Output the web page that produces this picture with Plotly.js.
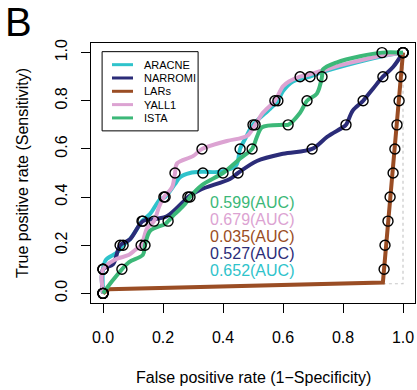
<!DOCTYPE html>
<html><head><meta charset="utf-8">
<script src="https://cdn.plot.ly/plotly-3.0.1.min.js"></script>
<style>html,body{margin:0;padding:0;background:#fff}#chart{width:417px;height:390px}</style>
</head><body><div id="chart"></div>
<script>
const methods = ["ARACNE", "NARROMI", "LARs", "YALL1", "ISTA"];
const colors = ["#2fc3cb", "#2b2c78", "#9a4d24", "#dca3d2", "#3cb878"];
const aucLabels = ["0.599(AUC)", "0.679(AUC)", "0.035(AUC)", "0.527(AUC)", "0.652(AUC)"];
const aucColors = ["#3cb878", "#dca3d2", "#9a4d24", "#2b2c78", "#2fc3cb"];

const aracneX = [0, 0, 0.01, 0.047, 0.067, 0.09, 0.117, 0.13, 0.157, 0.19, 0.207, 0.24, 0.257, 0.29, 0.333, 0.39, 0.443, 0.457, 0.473, 0.5, 0.557, 0.583, 0.6, 0.633, 0.69, 0.733, 0.847, 0.923, 1.0];
const aracneY = [0, 0.1, 0.14, 0.17, 0.2, 0.225, 0.275, 0.3, 0.33, 0.39, 0.4, 0.454, 0.483, 0.5, 0.505, 0.505, 0.53, 0.6, 0.64, 0.7, 0.767, 0.8, 0.84, 0.88, 0.9, 0.92, 0.96, 0.983, 1.0];
const narromiX = [0, 0, 0.033, 0.05, 0.057, 0.09, 0.133, 0.18, 0.213, 0.267, 0.283, 0.323, 0.423, 0.45, 0.513, 0.6, 0.697, 0.747, 0.8, 0.81, 0.833, 0.867, 0.9, 0.933, 0.967, 1.0];
const narromiY = [0, 0.1, 0.12, 0.18, 0.2, 0.225, 0.3, 0.31, 0.32, 0.38, 0.4, 0.43, 0.475, 0.5, 0.55, 0.58, 0.6, 0.65, 0.69, 0.7, 0.76, 0.8, 0.85, 0.9, 0.94, 1.0];
const larsX = [0, 0.02, 0.933, 1.0];
const larsY = [0, 0.017, 0.045, 1.0];
const yall1X = [0, 0, 0.04, 0.087, 0.107, 0.127, 0.147, 0.17, 0.187, 0.203, 0.23, 0.24, 0.247, 0.3, 0.33, 0.413, 0.48, 0.507, 0.533, 0.573, 0.6, 0.62, 0.657, 0.69, 0.73, 0.8, 0.9, 1.0];
const yall1Y = [0, 0.1, 0.14, 0.16, 0.18, 0.2, 0.27, 0.3, 0.36, 0.4, 0.44, 0.5, 0.54, 0.57, 0.6, 0.633, 0.654, 0.7, 0.75, 0.8, 0.86, 0.88, 0.9, 0.91, 0.925, 0.95, 0.98, 1.0];
const istaX = [0, 0.03, 0.063, 0.087, 0.133, 0.14, 0.157, 0.207, 0.217, 0.24, 0.273, 0.29, 0.33, 0.4, 0.457, 0.497, 0.513, 0.53, 0.6, 0.617, 0.657, 0.68, 0.713, 0.73, 0.733, 0.78, 0.857, 0.93, 1.0];
const istaY = [0, 0.05, 0.1, 0.13, 0.16, 0.2, 0.26, 0.288, 0.3, 0.33, 0.37, 0.4, 0.45, 0.5, 0.56, 0.6, 0.65, 0.69, 0.7, 0.7, 0.75, 0.8, 0.83, 0.9, 0.93, 0.96, 0.985, 1.0, 1.0];

// circle markers at sensitivity levels
const cutY = [0, 0.1, 0.2, 0.3, 0.4, 0.5, 0.6, 0.7, 0.8, 0.9, 1.0];
const aracneCutX = [0, 0, 0.067, 0.13, 0.207, 0.333, 0.457, 0.5, 0.583, 0.69, 1.0];
const narromiCutX = [0, 0, 0.057, 0.133, 0.283, 0.45, 0.697, 0.81, 0.867, 0.933, 1.0];
const larsCutX = [0, 0.937, 0.94, 0.95, 0.957, 0.967, 0.973, 0.98, 0.987, 0.993, 1.0];
const yall1CutX = [0, 0, 0.127, 0.17, 0.203, 0.24, 0.33, 0.507, 0.573, 0.657, 1.0];
const istaCutX = [0, 0.063, 0.14, 0.217, 0.29, 0.4, 0.497, 0.617, 0.68, 0.73, 0.93];

// dotted reference
const refX = [0.933, 1.0, 1.0];
const refY = [0.04, 0.04, 1.0];

const lineX = [aracneX, narromiX, larsX, yall1X, istaX];
const lineY = [aracneY, narromiY, larsY, yall1Y, istaY];
const cutX = [aracneCutX, narromiCutX, larsCutX, yall1CutX, istaCutX];

const FONT = "Liberation Sans, Arial, Helvetica, sans-serif";
const traces = [];
traces.push({x: refX, y: refY, mode: "lines", line: {color: "#c8c8c8", width: 1.2, dash: "dot"}, showlegend: false, hoverinfo: "skip"});
methods.forEach((m, i) => {
  traces.push({x: lineX[i], y: lineY[i], mode: "lines", name: m,
    line: {color: colors[i], width: 4, shape: m === "LARs" ? "linear" : "spline", smoothing: 0.9},
    showlegend: false});
});
methods.forEach((m, i) => {
  traces.push({x: cutX[i], y: cutY, mode: "markers", showlegend: false,
    marker: {symbol: "circle-open", size: 10, color: "#000", line: {width: 1.4, color: "#000"}}});
});

const annotations = [];
const shapes = [];
// AUC texts
aucLabels.forEach((t, i) => {
  annotations.push({xref: "x", yref: "y", x: 0.35, y: 0.378 - i * 0.0705, text: t, showarrow: false,
    xanchor: "left", yanchor: "middle", font: {family: FONT, size: 16, color: aucColors[i]}});
});
// manual legend
shapes.push({type: "rect", xref: "x", yref: "y", x0: -0.003, x1: 0.317, y0: 0.675, y1: 1.004,
  line: {color: "#000", width: 1}, fillcolor: "rgba(255,255,255,0)"});
methods.forEach((m, i) => {
  const yy = 0.95 - i * 0.0553;
  shapes.push({type: "line", xref: "x", yref: "y", x0: 0.03, x1: 0.1, y0: yy, y1: yy,
    line: {color: colors[i], width: 3}});
  annotations.push({xref: "x", yref: "y", x: 0.13, y: yy, text: m, showarrow: false,
    xanchor: "left", yanchor: "middle", font: {family: FONT, size: 11, color: "#000"}});
});
// axis titles and panel label
annotations.push({xref: "paper", yref: "paper", x: 0.5, y: 0, yshift: -74, text: "False positive rate (1\u2212Specificity)",
  showarrow: false, xanchor: "center", yanchor: "middle", font: {family: FONT, size: 16, color: "#000"}});
annotations.push({xref: "paper", yref: "paper", x: 0, y: 0.5, xshift: -69, text: "True positive rate (Sensitivity)",
  showarrow: false, textangle: -90, xanchor: "center", yanchor: "middle", font: {family: FONT, size: 16, color: "#000"}});
annotations.push({xref: "paper", yref: "paper", x: 0, y: 1, xshift: -73, yshift: 21, text: "B",
  showarrow: false, xanchor: "center", yanchor: "middle", font: {family: FONT, size: 40, color: "#000"}});

const layout = {
  width: 417, height: 390,
  margin: {l: 91, r: 2, t: 43, b: 87},
  paper_bgcolor: "#fff", plot_bgcolor: "#fff",
  font: {family: FONT, size: 16, color: "#000"},
  showlegend: false,
  xaxis: {range: [-0.04, 1.04], tickvals: [0, 0.2, 0.4, 0.6, 0.8, 1.0], ticktext: ["0.0", "0.2", "0.4", "0.6", "0.8", "1.0"],
    showgrid: false, zeroline: false, showline: true, mirror: true, linecolor: "#000", linewidth: 1,
    ticks: "outside", ticklen: 9, tickcolor: "#000", ticklabelstandoff: 11, tickfont: {family: FONT, size: 16, color: "#000"}},
  yaxis: {range: [-0.04, 1.04], tickvals: [0, 0.2, 0.4, 0.6, 0.8, 1.0], ticktext: ["0.0", "0.2", "0.4", "0.6", "0.8", "1.0"],
    showgrid: false, zeroline: false, showline: true, mirror: true, linecolor: "#000", linewidth: 1,
    ticks: "outside", ticklen: 9, tickcolor: "#000", tickangle: -90, ticklabelstandoff: 8, tickfont: {family: FONT, size: 16, color: "#000"}},
  annotations: annotations, shapes: shapes
};
Plotly.newPlot("chart", traces, layout, {staticPlot: true, displayModeBar: false});
</script></body></html>
